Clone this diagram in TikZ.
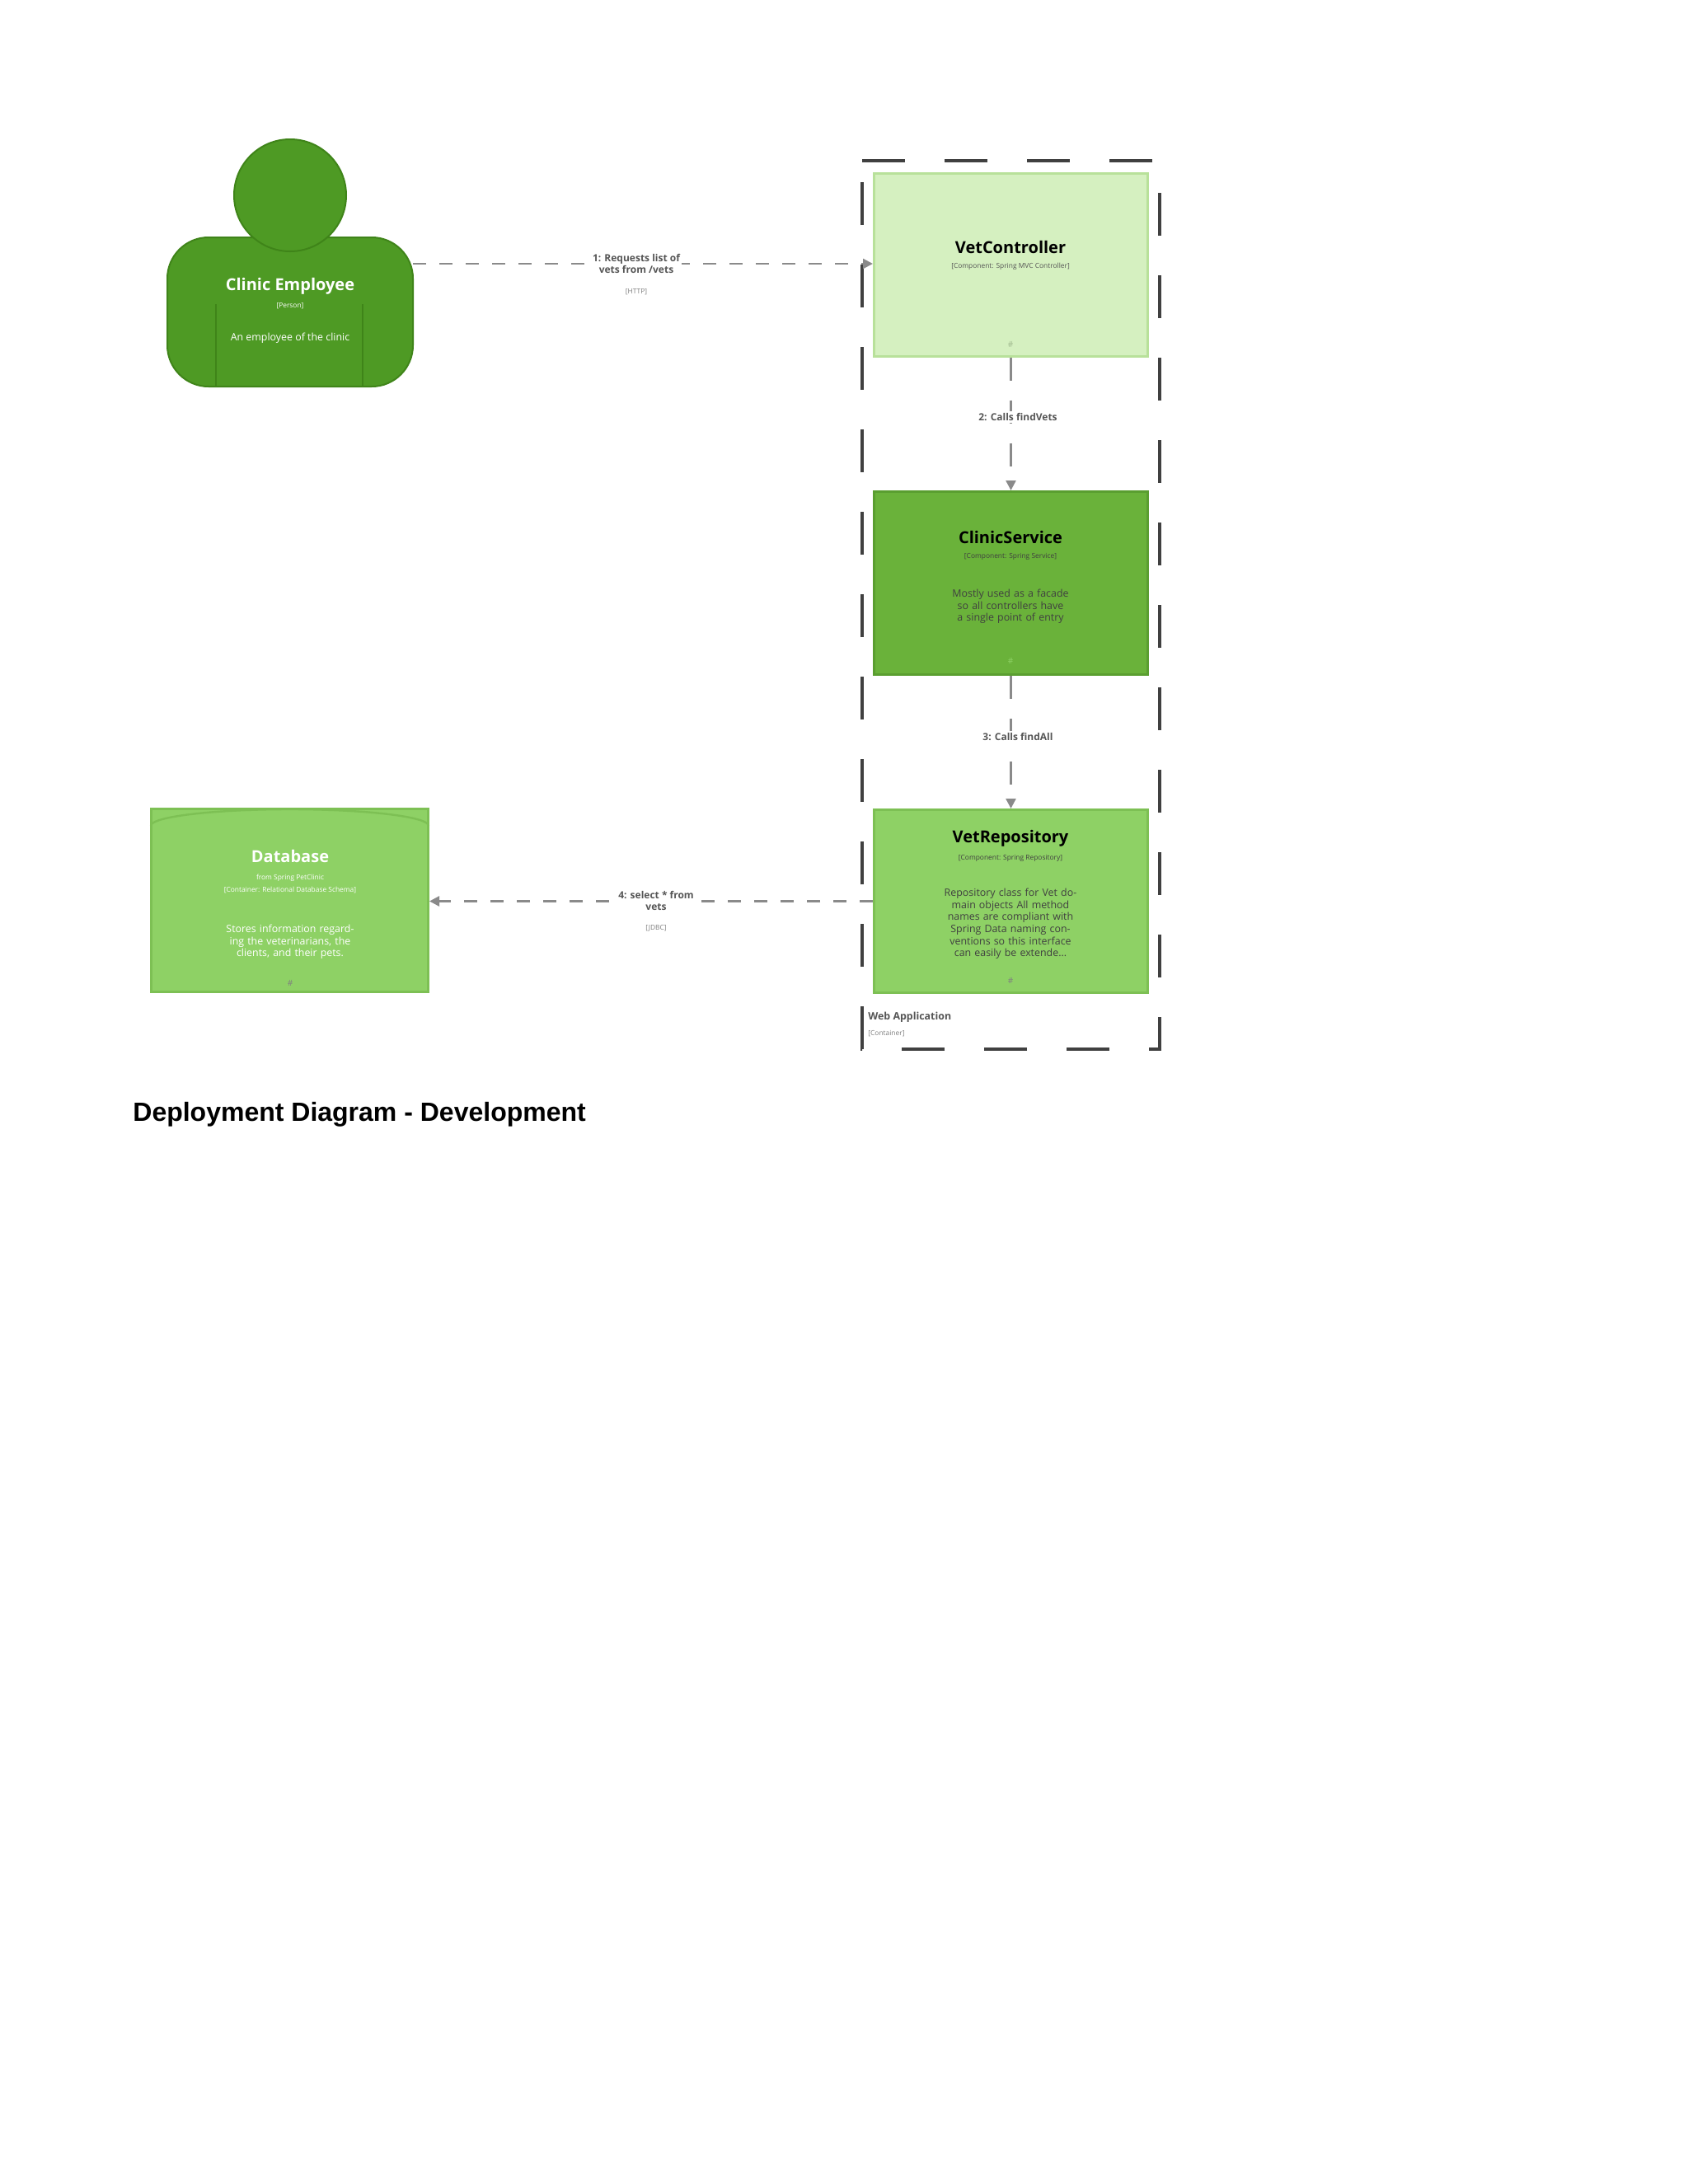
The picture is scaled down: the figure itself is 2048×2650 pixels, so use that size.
\documentclass[tikz,border=0pt]{standalone}
\usepackage{fontspec}
\setmainfont{Open Sans}
\newfontfamily\arialfont{Liberation Sans}
\usetikzlibrary{arrows.meta,shapes.geometric}
\definecolor{persongreen}{HTML}{4E9A24}
\definecolor{persondark}{HTML}{3F8419}
\definecolor{lightgreen}{HTML}{D5F0C0}
\definecolor{lightborder}{HTML}{B8E19A}
\definecolor{midgreen}{HTML}{6AB23A}
\definecolor{midborder}{HTML}{5A9E30}
\definecolor{palegreen}{HTML}{8ED165}
\definecolor{paleborder}{HTML}{7DC054}
\definecolor{linegray}{HTML}{8A8A8A}
\definecolor{textgray}{HTML}{555555}
\tikzset{
  x=0.5pt,y=-0.5pt,
  comp/.style={draw,line width=1.5pt,minimum width=166pt,minimum height=111pt,inner sep=0pt},
  ttl/.style={font=\bfseries\fontsize{10}{12}\selectfont},
  sub/.style={font=\fontsize{4.2}{5}\selectfont},
  desc/.style={font=\fontsize{6.2}{7.3}\selectfont,align=center,text width=92pt},
  hash/.style={font=\fontsize{5}{6}\selectfont},
  rel/.style={draw=linegray,line width=1.2pt,dash pattern=on 8pt off 8pt,-{Triangle[length=6pt,width=6pt]}},
  rellbl/.style={font=\bfseries\fontsize{6}{7}\selectfont,text=textgray,align=center,fill=white,inner sep=1pt},
  techlbl/.style={font=\fontsize{4.2}{5}\selectfont,text=gray,fill=white,inner sep=1pt},
}
\begin{document}
\begin{tikzpicture}
\useasboundingbox (0,0) rectangle (2048,2650);
\fill[white] (0,0) rectangle (2048,2650);
% boundary
\draw[line width=2.2pt,draw=black!75,dash pattern=on 26pt off 24pt] (1046,195) -- (1407,195) -- (1407,1273) -- (1046,1273) -- cycle;
\node[anchor=north west,inner sep=0pt,font=\bfseries\fontsize{6.2}{7}\selectfont,text=textgray] (wa) at (1053,1228) {Web Application};
\node[anchor=north west,inner sep=0pt,font=\fontsize{4.2}{5}\selectfont,text=gray] (wac) at (1053,1250) {[Container]};
% person
\fill[persongreen,draw=persondark,line width=1pt,rounded corners=25pt] (203,288) rectangle (501,469);
\draw[persondark,line width=0.8pt] (262,369) -- (262,469) (440,369) -- (440,469);
\fill[persongreen,draw=persondark,line width=1pt] (352,237) circle[radius=68];
\node[ttl,text=white] (pe) at (352,347) {Clinic Employee};
\node[font=\fontsize{4.2}{5}\selectfont,text=white] (pp) at (352,371) {[Person]};
\node[font=\fontsize{6.2}{7}\selectfont,text=white] (pd) at (352,410) {An employee of the clinic};
\coordinate (pr) at (501,320);
% components
\node[comp,fill=lightgreen,draw=lightborder] (vc) at (1226.5,321) {};
\node[ttl] at (1226,300) {VetController};
\node[sub,text=textgray] at (1226,323) {[Component: Spring MVC Controller]};
\node[hash,text=lightborder!60!gray] at (1226,418) {\#};
\node[comp,fill=midgreen,draw=midborder] (cs) at (1226.5,707.5) {};
\node[ttl] at (1226,652) {ClinicService};
\node[sub,text=black!75] at (1226,675) {[Component: Spring Service]};
\node[desc,text=black!75] at (1226,736) {Mostly used as a facade so all controllers have a single point of entry};
\node[hash,text=palegreen] at (1226,802) {\#};
\node[comp,fill=palegreen,draw=paleborder] (vr) at (1226.5,1093.5) {};
\node[ttl] at (1226,1017) {VetRepository};
\node[sub,text=black!75] at (1226,1041) {[Component: Spring Repository]};
\node[desc,text=black!75] at (1226,1121) {Repository class for Vet domain objects All method names are compliant with Spring Data naming conventions so this interface can easily be extende...};
\node[hash,text=black!50] at (1226,1190) {\#};
% database
\node[cylinder,shape border rotate=90,aspect=0.25,fill=palegreen,draw=paleborder,line width=1.5pt,minimum width=168pt,minimum height=111pt,inner sep=0pt] (db) at (351.5,1093.5) {};
\draw[paleborder,line width=1.2pt] (183,1002) arc[start angle=180,end angle=360,x radius=168.5,y radius=20];
\node[ttl,text=white] at (352,1039) {Database};
\node[sub,text=white] at (352,1065) {from Spring PetClinic};
\node[sub,text=white] at (352,1080) {[Container: Relational Database Schema]};
\node[desc,text=white] at (352,1143) {Stores information regarding the veterinarians, the clients, and their pets.};
\node[hash,text=black!50] at (352,1193) {\#};
% relations
\draw[rel] (pr) -- (vc.west |- pr);
\node[rellbl] at (772,320) {1: Requests list of\\vets from /vets};
\node[techlbl] at (772,354) {[HTTP]};
\draw[rel,dash pattern=on 14pt off 12pt] (vc.south) -- (cs.north);
\node[rellbl] at (1235,506) {2: Calls findVets};
\draw[rel,dash pattern=on 14pt off 12pt] (cs.south) -- (vr.north);
\node[rellbl] at (1235,894) {3: Calls findAll};
\draw[rel] (vr.west) -- (db.east);
\node[rellbl] at (796,1093) {4: select * from\\vets};
\node[techlbl] at (796,1126) {[JDBC]};
% title
\node[anchor=west,inner sep=0pt,font=\arialfont\bfseries\fontsize{16}{19}\selectfont] (title) at (161,1352) {Deployment Diagram - Development};
\end{tikzpicture}
\end{document}
